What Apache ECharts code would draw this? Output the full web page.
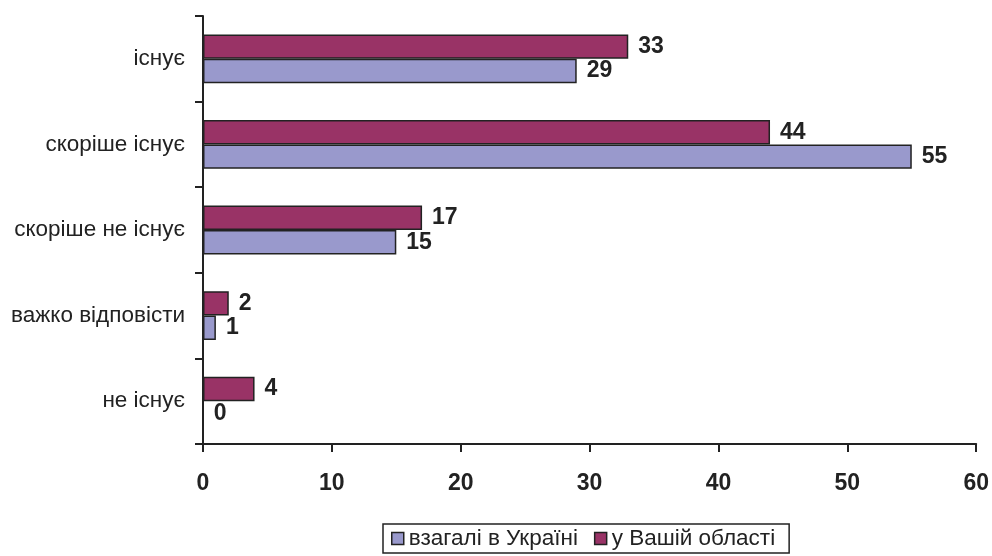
<!DOCTYPE html>
<html>
<head>
<meta charset="utf-8">
<script src="https://cdn.jsdelivr.net/npm/echarts@6/dist/echarts.min.js"></script>
<style>
  html, body { margin: 0; padding: 0; background: #fff; }
  #chart { width: 992px; height: 556px; }
</style>
</head>
<body>
<div id="chart"></div>
<script>
// категорії зверху вниз
const categories = ['існує', 'скоріше існує', 'скоріше не існує', 'важко відповісти', 'не існує']
const ukraine = [29, 55, 15, 1, 0]   // взагалі в Україні
const region = [33, 44, 17, 2, 4]    // у Вашій області
const xTicks = [0, 10, 20, 30, 40, 50, 60]

const chart = echarts.init(document.getElementById('chart'))

const font = 'Arial, Liberation Sans, sans-serif'

const labelStyle = {
    show: true,
    position: 'right',
    distance: 10,
    color: '#222',
    fontFamily: font,
    fontWeight: 'bold',
    fontSize: 23
}

const option = {
    animation: false,
    grid: {
        left: 203,
        right: 15,
        top: 16,
        bottom: 112
    },
    legend: {
        data: ['взагалі в Україні', 'у Вашій області'],
        top: 524,
        left: 383,
        icon: 'rect',
        itemWidth: 12,
        itemHeight: 12,
        itemGap: 16,
        padding: [3, 14, 3, 8],
        borderColor: '#222',
        borderWidth: 1.5,
        borderRadius: 0,
        itemStyle: { borderColor: '#222', borderWidth: 1.5 },
        textStyle: {
            color: '#222',
            fontFamily: font,
            fontSize: 22.5
        }
    },
    xAxis: {
        type: 'value',
        min: xTicks[0],
        max: xTicks[xTicks.length - 1],
        interval: 10,
        splitLine: { show: false },
        axisLine: { show: true, lineStyle: { color: '#222', width: 2 } },
        axisTick: { show: true, length: 8, lineStyle: { color: '#222', width: 2 } },
        axisLabel: {
            margin: 28,
            color: '#222',
            fontFamily: font,
            fontWeight: 'bold',
            fontSize: 23
        }
    },
    yAxis: {
        type: 'category',
        inverse: true,
        data: categories,
        axisLine: { show: true, lineStyle: { color: '#222', width: 2 } },
        axisTick: { show: true, length: 8, lineStyle: { color: '#222', width: 2 } },
        axisLabel: {
            margin: 18,
            color: '#222',
            fontFamily: font,
            fontSize: 22.5
        }
    },
    series: [
        {
            name: 'у Вашій області',
            type: 'bar',
            barGap: '0%',
            barCategoryGap: '43%',
            itemStyle: { color: '#993366', borderColor: '#222', borderWidth: 1.5 },
            label: labelStyle,
            data: region
        },
        {
            name: 'взагалі в Україні',
            type: 'bar',
            barGap: '0%',
            barCategoryGap: '43%',
            itemStyle: { color: '#9999cc', borderColor: '#222', borderWidth: 1.5 },
            label: labelStyle,
            data: ukraine
        }
    ]
}

chart.setOption(option)
</script>
</body>
</html>
